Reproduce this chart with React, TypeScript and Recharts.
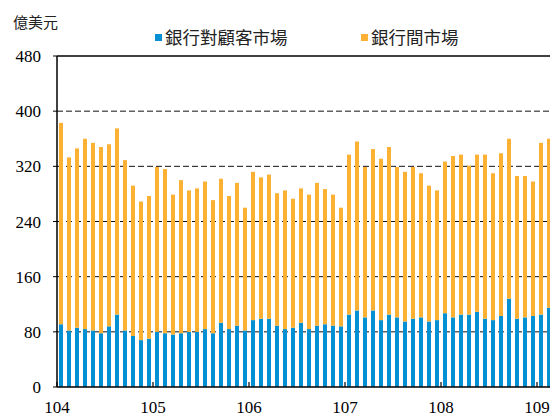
import { BarChart, Bar, XAxis, YAxis, CartesianGrid, ReferenceLine } from 'recharts';

// 104/01 ~ 109/02 monthly, 億美元
const years = ['104', '105', '106', '107', '108', '109'];
const yTicks = [0, 80, 160, 240, 320, 400, 480];

const customerMarket = [
  91, 82, 86, 84, 82, 78, 88, 105, 82, 74, 68, 70,
  80, 78, 76, 78, 80, 80, 84, 78, 93, 84, 89, 82,
  97, 99, 99, 89, 84, 86, 93, 84, 89, 91, 89, 88,
  105, 111, 101, 111, 97, 105, 101, 95, 99, 101, 95, 97,
  107, 101, 105, 105, 109, 99, 97, 103, 128, 99, 101, 103,
  105, 115,
];

const interbankMarket = [
  292, 251, 260, 276, 272, 270, 264, 270, 247, 218, 201, 207,
  239, 238, 203, 222, 205, 208, 214, 193, 209, 193, 207, 178,
  215, 205, 209, 192, 201, 187, 195, 195, 207, 196, 190, 172,
  232, 245, 218, 234, 234, 243, 218, 217, 220, 209, 197, 188,
  220, 234, 232, 216, 228, 238, 213, 236, 232, 207, 205, 195,
  249, 245,
];

const BLUE = '#0590d3';
const ORANGE = '#fcb034';
const serif = '"Liberation Serif", "Times New Roman", serif';
const cjk = '"Noto Sans CJK TC", sans-serif';

if (typeof document !== 'undefined') {
  document.body.style.margin = '0';
  document.documentElement.style.overflow = 'hidden';
}

const data = customerMarket.map((c, i) => ({
  month: `${years[Math.floor(i / 12)]}/${String((i % 12) + 1).padStart(2, '0')}`,
  customer: c,
  interbank: interbankMarket[i],
}));

const YearTick = (props: any) => {
  const { x, y } = props;
  const index = props.index ?? props.payload?.index ?? 0;
  if (index % 12 !== 0) return <g />;
  const x0 = x - 4;
  return (
    <g>
      <line x1={x0} x2={x0} y1={y} y2={y - 5} stroke="#000" strokeWidth={1.2} />
      <text x={x0} y={y + 26} textAnchor="middle" fontFamily={serif} fontSize={17} fill="#000">
        {years[index / 12]}
      </text>
    </g>
  );
};

export default function App() {
  return (
    <div style={{ position: 'relative', width: 550, height: 416, overflow: 'hidden', background: '#fff' }}>
      <div style={{ position: 'absolute', left: 8, top: 8 }}>
        <BarChart
          width={550}
          height={408}
          data={data}
          margin={{ top: 48, right: 5, bottom: 0, left: 0 }}
          barCategoryGap={0}
        >
          <CartesianGrid
            horizontal
            vertical={false}
            stroke="#111"
            strokeDasharray="6 3"
            horizontalValues={[80, 160, 240, 320, 400]}
          />
          <XAxis
            dataKey="month"
            interval={0}
            height={29}
            tickSize={0}
            tickMargin={0}
            tickLine={false}
            axisLine={{ stroke: '#000', strokeWidth: 1.5 }}
            tick={<YearTick />}
          />
          <YAxis
            width={49}
            domain={[0, 480]}
            ticks={yTicks}
            tickSize={4}
            tickMargin={12}
            axisLine={{ stroke: '#000', strokeWidth: 1.5 }}
            tickLine={{ stroke: '#000' }}
            tick={{ fontSize: 17, fontFamily: serif, fill: '#000' }}
          />
          <ReferenceLine y={480} stroke="#000" strokeWidth={1.5} />
          <Bar dataKey="customer" stackId="a" fill={BLUE} barSize={4} isAnimationActive={false} />
          <Bar dataKey="interbank" stackId="a" fill={ORANGE} barSize={4} isAnimationActive={false} />
        </BarChart>
      </div>

      <div style={{ position: 'absolute', left: 13, top: 13, fontFamily: cjk, fontSize: 15, lineHeight: '18px', color: '#222' }}>
        億美元
      </div>
      <div style={{ position: 'absolute', left: 155, top: 25, display: 'flex', alignItems: 'center', fontFamily: cjk, fontSize: 17.5, lineHeight: '24px', color: '#222' }}>
        <span style={{ width: 7, height: 7, background: BLUE, marginRight: 3 }} />
        銀行對顧客市場
      </div>
      <div style={{ position: 'absolute', left: 361, top: 25, display: 'flex', alignItems: 'center', fontFamily: cjk, fontSize: 17.5, lineHeight: '24px', color: '#222' }}>
        <span style={{ width: 7, height: 7, background: ORANGE, marginRight: 3 }} />
        銀行間市場
      </div>
    </div>
  );
}
